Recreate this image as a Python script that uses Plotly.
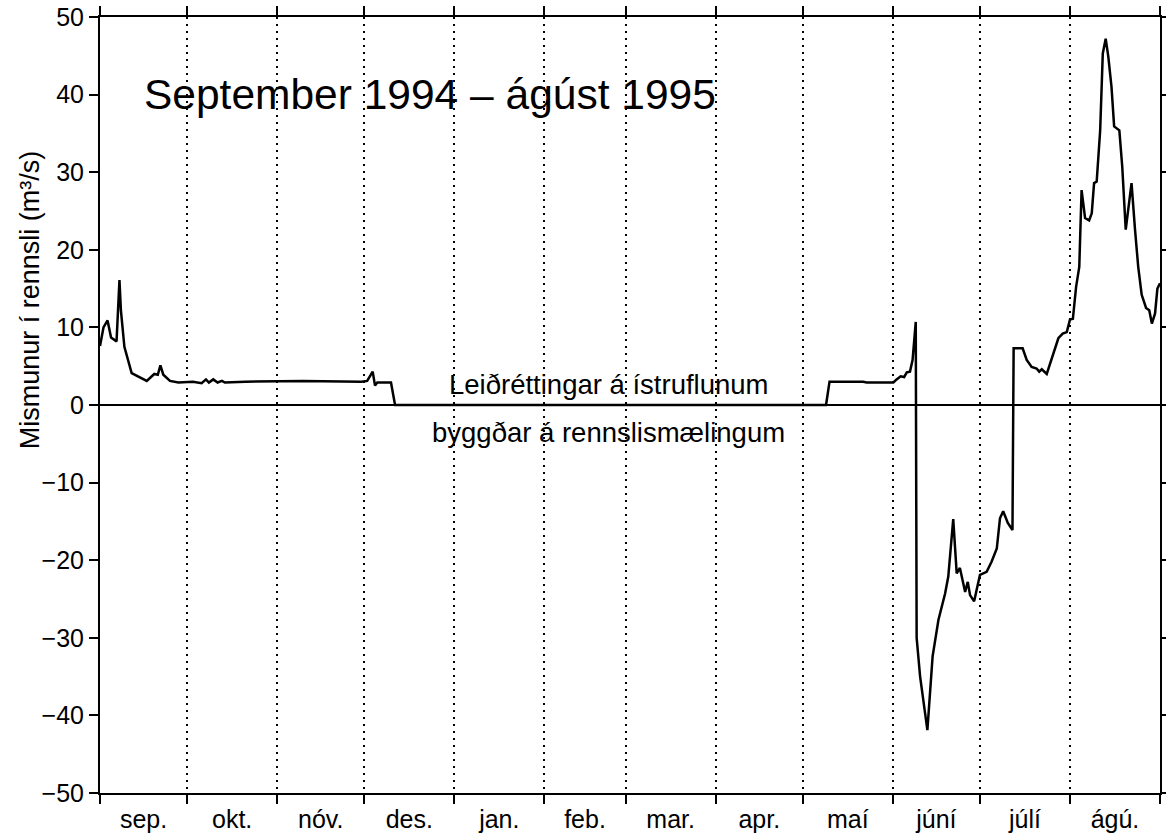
import pandas as pd
import plotly.graph_objects as go

# ---- data (days after 1 Sep 1994, difference in discharge m3/s) ----
days = [0, 1.2, 2.6, 3.8, 5.7, 6.7, 7.2, 8.4, 10.9, 13.5, 16.1, 18.7, 19.9, 20.8, 21.8,
        24.1, 27, 32, 35, 36.5, 37.5, 39, 40.5, 42, 43, 50, 70, 90, 92, 93.9, 94.7,
        95.5, 100.2, 101.6, 250, 251.2, 262.8, 264, 273.2, 274.3, 275.7, 276.9, 277.8,
        278.9, 279.8, 280.9, 281.2, 282.4, 284.9, 286.7, 288.7, 291, 292.1, 293.8, 295,
        296.1, 297.9, 298.8, 299.6, 301, 303, 305.3, 307, 308.8, 309.9, 311, 312.6,
        314.2, 314.6, 317.7, 319.1, 320.8, 322.5, 323.4, 324.3, 326, 327.1, 328.5, 330,
        331.5, 332.9, 334, 335, 336.1, 337.2, 338, 339.2, 340.6, 341.5, 342.3, 343.2,
        344.4, 345.3, 346.3, 347.2, 348.3, 349.2, 351, 352, 353.2, 354.4, 355.2, 356.4,
        357.5, 358.7, 360.2, 361.3, 362.2, 363.3, 364.1, 365]
values = [7.6, 10.0, 10.9, 8.7, 8.2, 16.1, 12.2, 7.5, 4.1, 3.6, 3.1, 4.0, 3.9, 5.1, 3.9,
          3.1, 2.9, 3.0, 2.8, 3.3, 2.9, 3.3, 2.9, 3.1, 2.9, 3.0, 3.1, 3.0, 3.1, 4.3, 2.5,
          2.9, 2.9, 0.0, 0.0, 3.0, 3.0, 2.9, 2.9, 3.3, 3.7, 3.6, 4.2,
          4.3, 5.8, 10.7, -30.0, -35.0, -41.9, -32.4, -27.7, -24.3, -22.1, -14.7, -21.7,
          -21.0, -24.1, -22.8, -24.5, -25.3, -21.9, -21.5, -20.2, -18.5, -14.6, -13.7, -15.2,
          -16.1, 7.3, 7.3, 5.8, 4.9, 4.7, 4.3, 4.6, 4.0, 5.2, 6.7, 8.6,
          9.2, 9.4, 11.0, 11.1, 15.2, 17.8, 27.7, 24.1, 23.8, 24.7, 28.6, 28.8,
          35.4, 45.3, 47.2, 44.9, 41.0, 35.9, 35.4, 30.7, 22.6, 26.4, 28.6, 22.6,
          17.8, 14.2, 12.5, 12.2, 10.5, 11.8, 15.0, 15.7]

month_labels = ["sep.", "okt.", "nóv.", "des.", "jan.", "feb.", "mar.", "apr.",
                "maí", "júní", "júlí", "ágú."]
y_ticks = [-50, -40, -30, -20, -10, 0, 10, 20, 30, 40, 50]

title_text = "September 1994 – ágúst 1995"
note_upper = "Leiðréttingar á ístruflunum"
note_lower = "byggðar á rennslismælingum"
y_title = "Mismunur í rennsli (m³/s)"

# ---- build ----
start = pd.Timestamp("1994-09-01")
x_dates = start + pd.to_timedelta(days, unit="D")
month_starts = pd.date_range("1994-09-01", periods=13, freq="MS")
mid_months = month_starts[:-1] + (month_starts[1:] - month_starts[:-1]) / 2

FONT = "Liberation Sans, Arial, Helvetica, sans-serif"

fig = go.Figure()
fig.add_trace(go.Scatter(x=x_dates, y=values, mode="lines",
                         line=dict(color="black", width=2.5), showlegend=False))

fig.update_layout(
    width=1166, height=838,
    margin=dict(l=100, r=6, t=17, b=45),
    paper_bgcolor="white", plot_bgcolor="white",
    font=dict(family=FONT, color="black", size=25),
    xaxis=dict(
        type="date", automargin=False, ticklabeloverflow="allow",
        range=[month_starts[0], month_starts[-1]],
        tickmode="array", tickvals=list(mid_months), ticktext=month_labels,
        ticks="", ticklen=0, showgrid=False, zeroline=False,
        showline=True, linecolor="black", linewidth=2, mirror="ticks",
        tickfont=dict(size=25, family=FONT),
        ticklabelstandoff=3,
        minor=dict(tickmode="array", tickvals=list(month_starts),
                   ticks="outside", ticklen=9, tickwidth=2, tickcolor="black",
                   showgrid=True, gridcolor="black", gridwidth=1.6, griddash="2px,5px"),
    ),
    yaxis=dict(
        automargin=False, ticklabeloverflow="allow",
        range=[-50, 50], tickmode="array", tickvals=y_ticks,
        ticks="outside", ticklen=9, tickwidth=2, tickcolor="black",
        showgrid=False, zeroline=True, zerolinecolor="black", zerolinewidth=2,
        showline=True, linecolor="black", linewidth=2, mirror="ticks",
        tickfont=dict(size=25, family=FONT),
    ),
    annotations=[
        dict(text=title_text, xref="paper", yref="y", x=0.311, y=40,
             xanchor="center", yanchor="middle", showarrow=False,
             font=dict(size=42.5, family=FONT)),
        dict(text=note_upper, xref="paper", yref="y", x=0.480, y=2.6,
             xanchor="center", yanchor="middle", showarrow=False,
             font=dict(size=27.5, family=FONT)),
        dict(text=note_lower, xref="paper", yref="y", x=0.480, y=-3.5,
             xanchor="center", yanchor="middle", showarrow=False,
             font=dict(size=27.5, family=FONT)),
        dict(text=y_title, xref="paper", yref="paper", x=-0.066, y=0.635,
             xanchor="center", yanchor="middle", textangle=-90, showarrow=False,
             font=dict(size=27, family=FONT)),
    ],
)

fig.write_html("out.html",
               config={"displayModeBar": False},
               post_script="document.body.style.margin='0';document.body.style.overflow='hidden';")
